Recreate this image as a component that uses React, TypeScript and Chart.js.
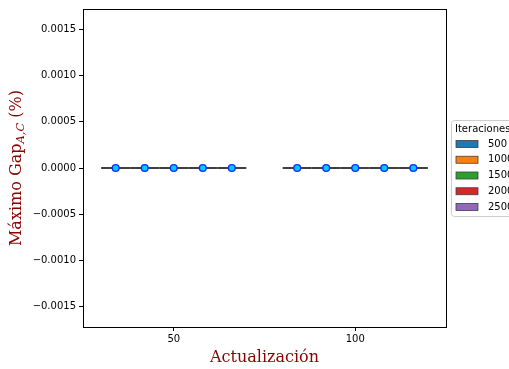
import React, { useEffect, useRef } from "react";
import { Chart, registerables } from "chart.js";

Chart.register(...registerables);

const categories = ["50", "100"];
const iterations = ["500", "1000", "1500", "2000", "2500"];
const palette = ["#1f77b4", "#ff7f0e", "#2ca02c", "#d62728", "#9467bd"];
// quartiles / median / mean for each iteration series, per category
const q1Values = [
  [0, 0],
  [0, 0],
  [0, 0],
  [0, 0],
  [0, 0],
];
const q3Values = [
  [0, 0],
  [0, 0],
  [0, 0],
  [0, 0],
  [0, 0],
];
const medianValues = [
  [0, 0],
  [0, 0],
  [0, 0],
  [0, 0],
  [0, 0],
];
const meanValues = [
  [0, 0],
  [0, 0],
  [0, 0],
  [0, 0],
  [0, 0],
];
const yTicks = [-0.0015, -0.001, -0.0005, 0, 0.0005, 0.001, 0.0015];
const yMin = -0.00172;
const yMax = 0.00172;

const W = 509;
const H = 369;

const fmt = (v: number) => v.toFixed(4).replace("-", "\u2212");

const decorPlugin = {
  id: "decor",
  afterDatasetsDraw(chart: any) {
    const ctx = chart.ctx;
    const ys = chart.scales.y;
    ctx.save();
    chart.data.datasets.forEach((ds: any, i: number) => {
      const meta = chart.getDatasetMeta(i);
      meta.data.forEach((el: any, j: number) => {
        const w = el.width;
        const yMed = ys.getPixelForValue(medianValues[i][j]);
        ctx.strokeStyle = "#3f3f3f";
        ctx.lineWidth = 2;
        ctx.beginPath();
        ctx.moveTo(el.x - w / 2, yMed);
        ctx.lineTo(el.x + w / 2, yMed);
        ctx.stroke();
      });
    });
    chart.data.datasets.forEach((ds: any, i: number) => {
      const meta = chart.getDatasetMeta(i);
      meta.data.forEach((el: any, j: number) => {
        const yMean = ys.getPixelForValue(meanValues[i][j]);
        ctx.beginPath();
        ctx.arc(el.x, yMean, 3.4, 0, Math.PI * 2);
        ctx.fillStyle = "#00c8ff";
        ctx.fill();
        ctx.lineWidth = 1.4;
        ctx.strokeStyle = "#1030ff";
        ctx.stroke();
      });
    });
    ctx.restore();
  },
  afterDraw(chart: any) {
    const ctx = chart.ctx;
    const a = chart.chartArea;
    ctx.save();
    // frame
    ctx.strokeStyle = "#000";
    ctx.lineWidth = 1;
    ctx.strokeRect(Math.round(a.left) + 0.5, Math.round(a.top) + 0.5, Math.round(a.right - a.left), Math.round(a.bottom - a.top));

    // x label
    ctx.fillStyle = "#8b0000";
    ctx.font = "16px 'DejaVu Serif'";
    ctx.textAlign = "center";
    ctx.textBaseline = "alphabetic";
    ctx.fillText("Actualización", (a.left + a.right) / 2, 362);

    // y label with subscript
    ctx.translate(21, (a.top + a.bottom) / 2);
    ctx.rotate(-Math.PI / 2);
    const p1 = "Máximo Gap";
    const sub = "A,C";
    const p3 = " (%)";
    const mainFont = "16px 'DejaVu Serif'";
    const subFont = "italic 11.5px 'DejaVu Serif'";
    ctx.font = mainFont;
    const w1 = ctx.measureText(p1).width;
    const w3 = ctx.measureText(p3).width;
    ctx.font = subFont;
    const w2 = ctx.measureText(sub).width;
    const total = w1 + w2 + w3;
    let x = -total / 2;
    ctx.textAlign = "left";
    ctx.font = mainFont;
    ctx.fillText(p1, x, 0);
    x += w1;
    ctx.font = subFont;
    ctx.fillText(sub, x, 3);
    x += w2;
    ctx.font = mainFont;
    ctx.fillText(p3, x, 0);
    ctx.setTransform(1, 0, 0, 1, 0, 0);

    // legend
    const lx = 451;
    const ly = 120;
    const lw = 90;
    const lh = 96;
    ctx.beginPath();
    ctx.roundRect(lx + 0.5, ly + 0.5, lw, lh, 3);
    ctx.fillStyle = "rgba(255,255,255,0.8)";
    ctx.fill();
    ctx.strokeStyle = "#cccccc";
    ctx.lineWidth = 1;
    ctx.stroke();
    ctx.fillStyle = "#000";
    ctx.font = "10px 'DejaVu Sans'";
    ctx.textBaseline = "middle";
    ctx.textAlign = "left";
    ctx.fillText("Iteraciones", 455, 129);
    chart.data.datasets.forEach((ds: any, i: number) => {
      const cy = 144 + i * 15.75;
      ctx.fillStyle = ds.backgroundColor;
      ctx.fillRect(456, cy - 3.5, 22, 7);
      ctx.strokeStyle = "#3f3f3f";
      ctx.lineWidth = 0.8;
      ctx.strokeRect(456, cy - 3.5, 22, 7);
      ctx.fillStyle = "#000";
      ctx.fillText(ds.label, 488, cy);
    });
    ctx.restore();
  },
};

export default function App() {
  const ref = useRef<HTMLCanvasElement>(null);
  useEffect(() => {
    if (!ref.current) return;
    const chart = new Chart(ref.current, {
      type: "bar",
      data: {
        labels: categories,
        datasets: iterations.map((it, i) => ({
          label: it,
          data: q1Values[i].map((q, j) => [q, q3Values[i][j]]) as any,
          backgroundColor: palette[i],
          borderColor: "#3f3f3f",
          borderWidth: 1,
          borderSkipped: false,
          categoryPercentage: 0.8,
          barPercentage: 1.0,
        })),
      },
      options: {
        animation: false,
        responsive: false,
        devicePixelRatio: 1,
        layout: { padding: { left: 0, right: 63, top: 7, bottom: 0 } },
        plugins: { legend: { display: false }, tooltip: { enabled: false } },
        scales: {
          x: {
            type: "category",
            offset: true,
            grid: {
              display: true,
              offset: false,
              drawOnChartArea: false,
              drawTicks: true,
              tickLength: 4,
              color: "#000",
            },
            border: { display: true, color: "#000", width: 1 },
            ticks: { color: "#000", font: { family: "DejaVu Sans", size: 10 }, padding: 2 },
            afterFit: (s: any) => {
              s.height = 42;
            },
          },
          y: {
            type: "linear",
            min: yMin,
            max: yMax,
            afterBuildTicks: (s: any) => {
              s.ticks = yTicks.map((v) => ({ value: v }));
            },
            grid: {
              display: true,
              drawOnChartArea: false,
              drawTicks: true,
              tickLength: 4,
              color: "#000",
            },
            border: { display: true, color: "#000", width: 1 },
            ticks: {
              color: "#000",
              font: { family: "DejaVu Sans", size: 10 },
              padding: 3,
              callback: (v: any) => fmt(Number(v)),
            },
            afterFit: (s: any) => {
              s.width = 83;
            },
          },
        },
      },
      plugins: [decorPlugin],
    });
    return () => chart.destroy();
  }, []);
  return (
    <div style={{ position: "fixed", left: 0, top: 0, width: W, height: H, overflow: "hidden", background: "#fff" }}>
      <canvas ref={ref} width={W} height={H} style={{ width: W, height: H, display: "block" }} />
    </div>
  );
}
